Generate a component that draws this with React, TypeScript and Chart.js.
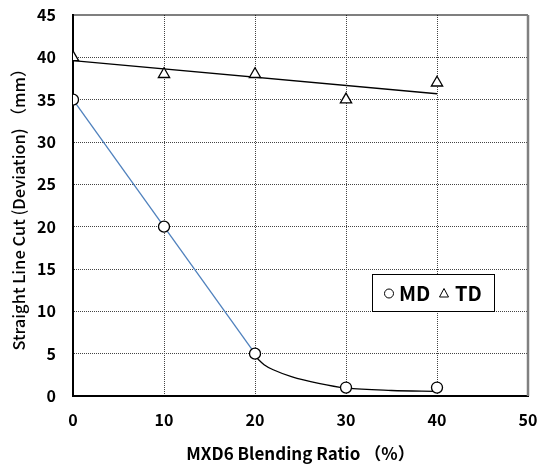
import React, { useEffect, useRef } from "react";
import { Chart, registerables } from "chart.js";

Chart.register(...registerables);

// Measured points
const ratioX = [0, 10, 20, 30, 40];
const mdValues = [35, 20, 5, 1, 1];
const tdValues = [40, 38, 38, 35, 37];

// MD fit: straight segment from 0 to 20, then a decaying curve to 40
const mdLineX = [0, 20];
const mdLineY = [35, 5];
const mdCurveX = [20.1, 21, 22, 24, 27, 30, 35, 40];
const mdCurveY = [4.6, 3.7, 3.1, 2.3, 1.5, 0.95, 0.65, 0.55];

// TD linear trend
const tdTrendX = [0, 40];
const tdTrendY = [39.6, 35.7];

const xTicks = [0, 10, 20, 30, 40, 50];
const yTicks = [0, 5, 10, 15, 20, 25, 30, 35, 40, 45];

const FONT = "'Noto Sans CJK JP', 'Noto Sans', sans-serif";

const pts = (xs: number[], ys: number[]) => xs.map((x, i) => ({ x, y: ys[i] }));

const framePlugin = {
  id: "frameAndLegend",
  afterDraw(chart: any) {
    const { ctx, chartArea } = chart;
    const { left, right, top, bottom } = chartArea;
    ctx.save();
    ctx.setLineDash([]);
    // top border
    ctx.strokeStyle = "#000";
    ctx.lineWidth = 1.2;
    ctx.beginPath();
    ctx.moveTo(left, top);
    ctx.lineTo(right, top);
    ctx.stroke();
    // right border
    ctx.strokeStyle = "#808080";
    ctx.lineWidth = 2.5;
    ctx.beginPath();
    ctx.moveTo(right, top);
    ctx.lineTo(right, bottom);
    ctx.stroke();

    // legend box
    const bx = 372, by = 274, bw = 122, bh = 37;
    ctx.fillStyle = "#fff";
    ctx.fillRect(bx, by, bw, bh);
    ctx.strokeStyle = "#000";
    ctx.lineWidth = 1;
    ctx.strokeRect(bx + 0.5, by + 0.5, bw, bh);

    const cy = by + bh / 2 + 1;
    // circle symbol
    ctx.beginPath();
    ctx.arc(389, cy, 4.5, 0, Math.PI * 2);
    ctx.lineWidth = 1;
    ctx.stroke();
    // triangle symbol
    ctx.beginPath();
    ctx.moveTo(444, cy - 5);
    ctx.lineTo(448.5, cy + 3.5);
    ctx.lineTo(439.5, cy + 3.5);
    ctx.closePath();
    ctx.stroke();

    ctx.fillStyle = "#000";
    ctx.font = `bold 20px ${FONT}`;
    ctx.textBaseline = "middle";
    ctx.textAlign = "left";
    ctx.fillText("MD", 399, cy);
    ctx.fillText("TD", 455, cy);
    ctx.restore();
  },
};

export default function App() {
  const ref = useRef<HTMLCanvasElement>(null);

  useEffect(() => {
    if (!ref.current) return;
    const chart = new Chart(ref.current, {
      type: "scatter",
      data: {
        datasets: [
          {
            label: "MD fit",
            data: pts(mdLineX, mdLineY),
            showLine: true,
            borderColor: "#4f81bd",
            borderWidth: 1.3,
            pointRadius: 0,
            order: 5,
          },
          {
            label: "MD curve",
            data: pts(mdCurveX, mdCurveY),
            showLine: true,
            borderColor: "#000",
            borderWidth: 1.3,
            pointRadius: 0,
            cubicInterpolationMode: "monotone",
            order: 5,
          },
          {
            label: "TD fit",
            data: pts(tdTrendX, tdTrendY),
            showLine: true,
            borderColor: "#000",
            borderWidth: 1.3,
            pointRadius: 0,
            order: 5,
          },
          {
            label: "MD",
            data: pts(ratioX, mdValues),
            showLine: false,
            pointStyle: "circle",
            pointRadius: 5.5,
            pointBackgroundColor: "#fff",
            pointBorderColor: "#000",
            pointBorderWidth: 1.3,
            order: 1,
          },
          {
            label: "TD",
            data: pts(ratioX, tdValues),
            showLine: false,
            pointStyle: "triangle",
            pointRadius: 6.5,
            pointBackgroundColor: "#fff",
            pointBorderColor: "#000",
            pointBorderWidth: 1.3,
            order: 1,
          },
        ],
      },
      options: {
        animation: false,
        responsive: false,
        maintainAspectRatio: false,
        layout: { padding: { left: 0, right: 13, top: 15, bottom: 0 } },
        plugins: { legend: { display: false }, tooltip: { enabled: false } },
        scales: {
          x: {
            type: "linear",
            min: 0,
            max: 50,
            afterBuildTicks: (s: any) => {
              s.ticks = xTicks.map((v) => ({ value: v }));
            },
            afterFit: (s: any) => {
              s.height = 75;
              s.paddingLeft = 0;
              s.paddingRight = 0;
            },
            ticks: {
              color: "#000",
              padding: 14,
              font: { family: FONT, size: 16, weight: "bold" },
            },
            grid: {
              drawTicks: false,
              color: (c: any) =>
                c.tick && (c.tick.value === 0 || c.tick.value === 50) ? "rgba(0,0,0,0)" : "#444",
              lineWidth: 1,
            },
            border: { display: true, color: "#000", width: 2, dash: [1, 1] },
            title: {
              display: true,
              text: "MXD6 Blending Ratio （%）",
              color: "#000",
              font: { family: FONT, size: 17, weight: "bold" },
              padding: { top: 8, bottom: 7 },
            },
          },
          y: {
            type: "linear",
            min: 0,
            max: 45,
            afterBuildTicks: (s: any) => {
              s.ticks = yTicks.map((v) => ({ value: v }));
            },
            afterFit: (s: any) => {
              s.width = 73;
              s.paddingTop = 0;
              s.paddingBottom = 0;
            },
            ticks: {
              color: "#000",
              padding: 17,
              font: { family: FONT, size: 16, weight: "bold" },
            },
            grid: {
              drawTicks: false,
              color: (c: any) =>
                c.tick && (c.tick.value === 0 || c.tick.value === 45) ? "rgba(0,0,0,0)" : "#444",
              lineWidth: 1,
            },
            border: { display: true, color: "#000", width: 2, dash: [1, 1] },
            title: {
              display: true,
              text: "Straight Line Cut (Deviation) （mm）",
              color: "#000",
              font: { family: FONT, size: 16.5, weight: "500" },
              padding: { top: 9, bottom: 4 },
            },
          },
        },
      },
      plugins: [framePlugin],
    });
    return () => chart.destroy();
  }, []);

  return (
    <div style={{ position: "fixed", left: 0, top: 0, width: 541, height: 471, background: "#fff" }}>
      <canvas ref={ref} width={541} height={471} />
    </div>
  );
}
